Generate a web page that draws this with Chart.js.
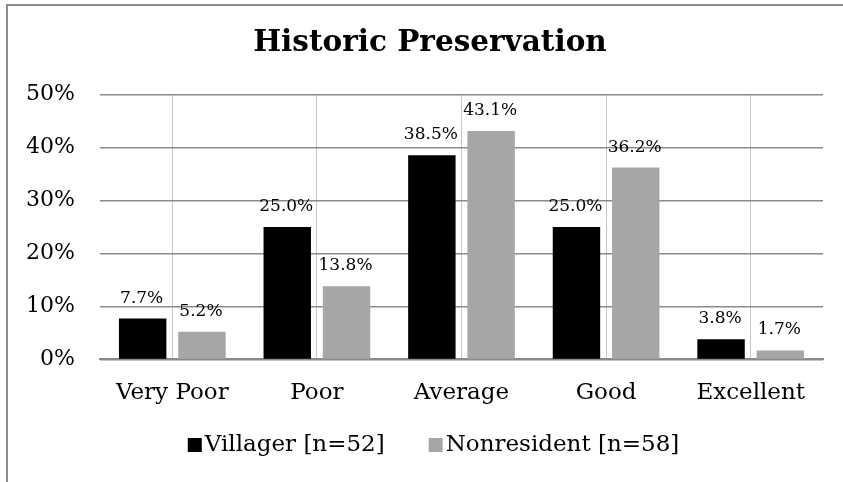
<!DOCTYPE html>
<html>
<head>
<meta charset="utf-8">
<script src="https://cdn.jsdelivr.net/npm/chart.js@4/dist/chart.umd.min.js"></script>
<style>
  body { margin: 0; background: #fff; }
  #wrap { position: relative; width: 843px; height: 482px; }
  #frame-top { position: absolute; left: 6px; top: 4px; right: 0; height: 2px; background: #8c8c8c; }
  #frame-left { position: absolute; left: 6px; top: 4px; bottom: 0; width: 2px; background: #8c8c8c; }
</style>
</head>
<body>
<div id="wrap">
  <canvas id="chart" width="843" height="482"></canvas>
  <div id="frame-top"></div>
  <div id="frame-left"></div>
</div>
<script>
const categories = ['Very Poor', 'Poor', 'Average', 'Good', 'Excellent'];
const villager = [7.7, 25.0, 38.5, 25.0, 3.8];
const nonresident = [5.2, 13.8, 43.1, 36.2, 1.7];
const seriesNames = ['Villager [n=52]', 'Nonresident [n=58]'];

const serif = '"DejaVu Serif", Georgia, serif';

// value labels above each bar
const barLabels = {
    id: 'barLabels',
    afterDatasetsDraw(chart) {
        const ctx = chart.ctx;
        ctx.save();
        ctx.font = '17px ' + serif;
        ctx.fillStyle = '#000';
        ctx.textAlign = 'center';
        ctx.textBaseline = 'alphabetic';
        chart.data.datasets.forEach((ds, i) => {
            chart.getDatasetMeta(i).data.forEach((bar, j) => {
                ctx.fillText(ds.data[j].toFixed(1) + '%', bar.x - 1, bar.y - 16);
            });
        });
        ctx.restore();
    }
};

// the title in the original sits a bit right of the canvas centre
const shiftTitle = {
    id: 'shiftTitle',
    afterLayout(chart) {
        if (chart.titleBlock) chart.titleBlock.left += 29;
    }
};

// legend drawn by hand so the box/text gaps match the original (small gap after the box)
const bottomLegend = {
    id: 'bottomLegend',
    afterDraw(chart) {
        const ctx = chart.ctx;
        const box = 14, gap = 3, itemGap = 44;
        ctx.save();
        ctx.font = '23px ' + serif;
        ctx.textBaseline = 'middle';
        ctx.textAlign = 'left';
        const items = chart.data.datasets.map(ds => ({
            text: ds.label,
            color: ds.backgroundColor,
            w: ctx.measureText(ds.label).width
        }));
        let total = 0;
        items.forEach((it, i) => { total += box + gap + it.w + (i ? itemGap : 0); });
        const cx = (chart.chartArea.left + chart.chartArea.right) / 2 - 28;
        const cy = chart.height - 37;
        let x = cx - total / 2;
        items.forEach(it => {
            ctx.fillStyle = it.color;
            ctx.fillRect(x, cy - box / 2, box, box);
            ctx.fillStyle = '#000';
            ctx.fillText(it.text, x + box + gap, cy);
            x += box + gap + it.w + itemGap;
        });
        ctx.restore();
    }
};

const ctx = document.getElementById('chart').getContext('2d');
const chart = new Chart(ctx, {
    type: 'bar',
    data: {
        labels: categories,
        datasets: [{
            label: seriesNames[0],
            data: villager,
            backgroundColor: '#000000',
            categoryPercentage: 0.82,
            barPercentage: 0.8
        }, {
            label: seriesNames[1],
            data: nonresident,
            backgroundColor: '#a6a6a6',
            categoryPercentage: 0.82,
            barPercentage: 0.8
        }]
    },
    options: {
        responsive: false,
        animation: false,
        layout: {
            padding: { left: 8, right: 20, top: 0, bottom: 55 }
        },
        plugins: {
            title: {
                display: true,
                text: 'Historic Preservation',
                color: '#000',
                font: { family: serif, size: 29.5, weight: 'bold' },
                padding: { top: 26, bottom: 33 }
            },
            legend: { display: false },
            tooltip: { enabled: false }
        },
        scales: {
            x: {
                grid: { offset: false, color: '#c4c4c4', lineWidth: 1, drawTicks: false },
                border: { display: true, color: '#8a8a8a', width: 2 },
                ticks: {
                    color: '#000',
                    font: { family: serif, size: 23 },
                    padding: 20
                }
            },
            y: {
                min: 0,
                max: 50,
                afterFit(scale) { scale.width = 92; },
                grid: { color: '#8a8a8a', lineWidth: 1.5, drawTicks: false },
                border: { display: false },
                ticks: {
                    stepSize: 10,
                    color: '#000',
                    font: { family: serif, size: 22 },
                    padding: 25,
                    callback: v => v + '%'
                }
            }
        }
    },
    plugins: [barLabels, shiftTitle, bottomLegend]
});
</script>
</body>
</html>
